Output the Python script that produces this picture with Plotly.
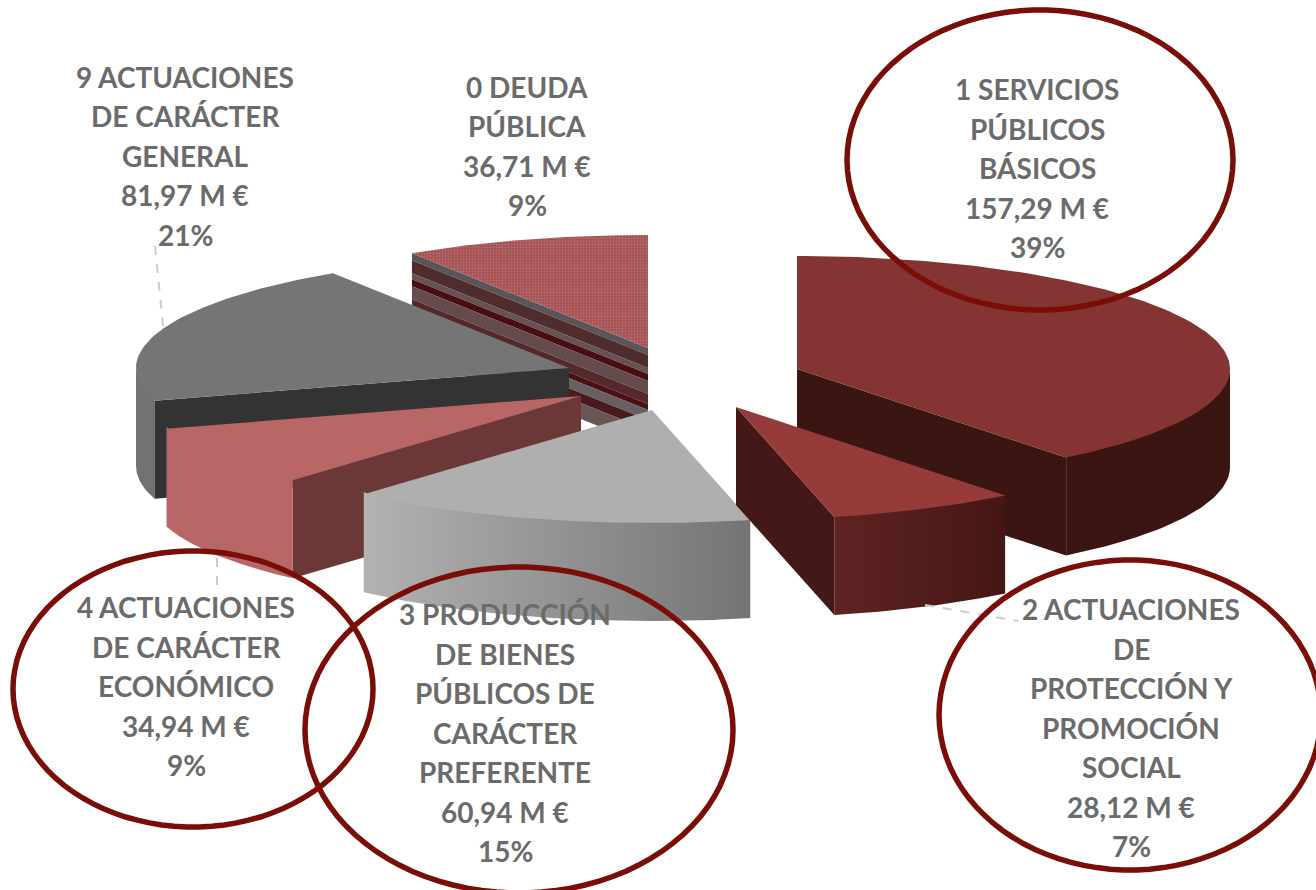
import math
import plotly.graph_objects as go

# ---- data, clockwise from 12 o'clock
codes = ["1", "2", "3", "4", "9", "0"]
amounts = [157.29, 28.12, 60.94, 34.94, 81.97, 36.71]
label_lines = {
    "1": ["1 SERVICIOS", "PÚBLICOS", "BÁSICOS", "157,29 M €", "39%"],
    "2": ["2 ACTUACIONES", "DE", "PROTECCIÓN Y", "PROMOCIÓN", "SOCIAL", "28,12 M €", "7%"],
    "3": ["3 PRODUCCIÓN", "DE BIENES", "PÚBLICOS DE", "CARÁCTER", "PREFERENTE", "60,94 M €", "15%"],
    "4": ["4 ACTUACIONES", "DE CARÁCTER", "ECONÓMICO", "34,94 M €", "9%"],
    "9": ["9 ACTUACIONES", "DE CARÁCTER", "GENERAL", "81,97 M €", "21%"],
    "0": ["0 DEUDA", "PÚBLICA", "36,71 M €", "9%"],
}

# ---- layout of the pseudo-3D pie (canvas pixels)
W, H = 1316, 890
RX, RY, DEPTH = 433, 113, 98
APEX = {"1": (797, 369), "2": (736, 407), "3": (652, 410),
        "4": (581, 396), "9": (569, 368), "0": (648, 348)}
LABEL_POS = {"1": (1037, 89), "2": (1131, 609), "3": (505, 614),
             "4": (186, 607), "9": (185, 76.5), "0": (527, 86.5)}
LABEL_PITCH = 39.5
TOP = {"1": "#843432", "2": "#963b3a", "3": "#afafaf", "4": "#b86766", "9": "#757575"}
CUT = {"1": "#3a1512", "2": "#431817", "4": "#6b3837", "9": "#333333"}
OUTER = {"1": ("#3a1512", "#3a1512"), "2": ("#5e2422", "#451615"),
         "3": ("#b2b2b2", "#747474"), "4": ("#b86766", "#b86766"),
         "9": ("#727272", "#727272")}
STRIPES = [(0, 7, "#5a5557"), (7, 20, "#4f2c2e"), (20, 26, "#665153"), (26, 33, "#4a0e12"),
           (33, 46, "#644c4e"), (46, 56, "#55292c"), (56, 62, "#4a1215"),
           (62, 72, "#666062"), (72, 82, "#4a1a1c"), (82, 98, "#6a5556")]
ELLIPSES = [(1040, 160, 193, 150, 0), (1130, 715, 191, 155, 0),
            (519, 730, 214, 163, 0), (193, 689, 180, 138, 0)]
LEADERS = [((155, 246), (163, 326)), ((217, 558), (217, 590)), ((925, 605), (1018, 621))]

total = sum(amounts)
angles = {}
acc = 0.0
for c, v in zip(codes, amounts):
    angles[c] = (acc / total * 360, (acc + v) / total * 360)
    acc += v


def rim(code, a, z=0):
    ax, ay = APEX[code]
    r = math.radians(a)
    return ax + RX * math.sin(r), ay - RY * math.cos(r) + z


def arc(code, z=0, a0=None, a1=None):
    s, e = angles[code]
    s = s if a0 is None else a0
    e = e if a1 is None else a1
    n = max(2, int(abs(e - s)))
    return [rim(code, s + (e - s) * i / n, z) for i in range(n + 1)]


fig = go.Figure()


def poly(pts, color=None, **kw):
    xs = [p[0] for p in pts] + [pts[0][0]]
    ys = [p[1] for p in pts] + [pts[0][1]]
    args = dict(x=xs, y=ys, mode="lines", fill="toself", line=dict(width=0),
                hoverinfo="skip", showlegend=False)
    if color:
        args["fillcolor"] = color
    args.update(kw)
    fig.add_trace(go.Scatter(**args))


def cut_wall(code, a, color=None, z0=0, z1=DEPTH):
    ap = APEX[code]
    poly([(ap[0], ap[1] + z0), rim(code, a, z0), rim(code, a, z1), (ap[0], ap[1] + z1)], color)


def outer_wall(code, a0=None, a1=None):
    top = arc(code, -2, a0, a1)
    bot = arc(code, DEPTH, a0, a1)
    c0, c1 = OUTER[code]
    kw = {}
    if c0 != c1:
        kw["fillgradient"] = dict(type="horizontal", colorscale=[[0, c0], [1, c1]])
    poly(top + bot[::-1], c0 if c0 == c1 else None, **kw)


def top_face(code, color=None, **kw):
    poly([APEX[code]] + arc(code), color, **kw)


# back slice: debt
a = angles["0"][0]
for z0, z1, col in STRIPES:
    cut_wall("0", a, col, z0, z1)
top_face("0", "#a85555",
         fillpattern=dict(shape=".", bgcolor="#a04c4e", fgcolor="#cc8a8a", size=3, solidity=0.45))

# general actions
outer_wall("9", angles["9"][0], 270)
cut_wall("9", angles["9"][0], CUT["9"])
top_face("9", TOP["9"])

# basic public services
cut_wall("1", angles["1"][1], CUT["1"])
outer_wall("1", 90, angles["1"][1])
top_face("1", TOP["1"])

# economic actions
cut_wall("4", angles["4"][0], CUT["4"])
outer_wall("4")
top_face("4", TOP["4"])

# preferential goods
outer_wall("3")
top_face("3", TOP["3"])

# social protection
cut_wall("2", angles["2"][1], CUT["2"])
outer_wall("2")
top_face("2", TOP["2"])

# leaders
for (x0, y0), (x1, y1) in LEADERS:
    fig.add_shape(type="line", xref="x", yref="y", x0=x0, y0=y0, x1=x1, y1=y1,
                  line=dict(color="#c9cdcd", width=2, dash="dash"), layer="above")

# labels
for code in codes:
    lx, ly = LABEL_POS[code]
    for i, t in enumerate(label_lines[code]):
        fig.add_annotation(x=lx, y=ly + i * LABEL_PITCH, text=t, showarrow=False,
                           xref="x", yref="y", xanchor="center", yanchor="middle",
                           font=dict(family="Lato", size=28, color="#6b6b6b", weight=700))

# hand-drawn ellipses
for cx, cy, a_, b_, rot in ELLIPSES:
    n = 90
    t = math.radians(rot)
    pts = []
    for i in range(n):
        u = 2 * math.pi * i / n
        x = a_ * math.cos(u)
        y = b_ * math.sin(u)
        pts.append((cx + x * math.cos(t) - y * math.sin(t), cy + x * math.sin(t) + y * math.cos(t)))
    path = "M " + " L ".join(f"{x:.1f},{y:.1f}" for x, y in pts) + " Z"
    fig.add_shape(type="path", path=path, xref="x", yref="y",
                  line=dict(color="#7a0e06", width=5.5), layer="above")

fig.update_layout(
    width=W, height=H, margin=dict(l=0, r=0, t=0, b=0),
    paper_bgcolor="white", plot_bgcolor="white", showlegend=False,
    xaxis=dict(range=[0, W], visible=False, fixedrange=True),
    yaxis=dict(range=[H, 0], visible=False, fixedrange=True),
)
fig.write_html("out.html", post_script="document.body.style.margin='0';", config={"displayModeBar": False})
